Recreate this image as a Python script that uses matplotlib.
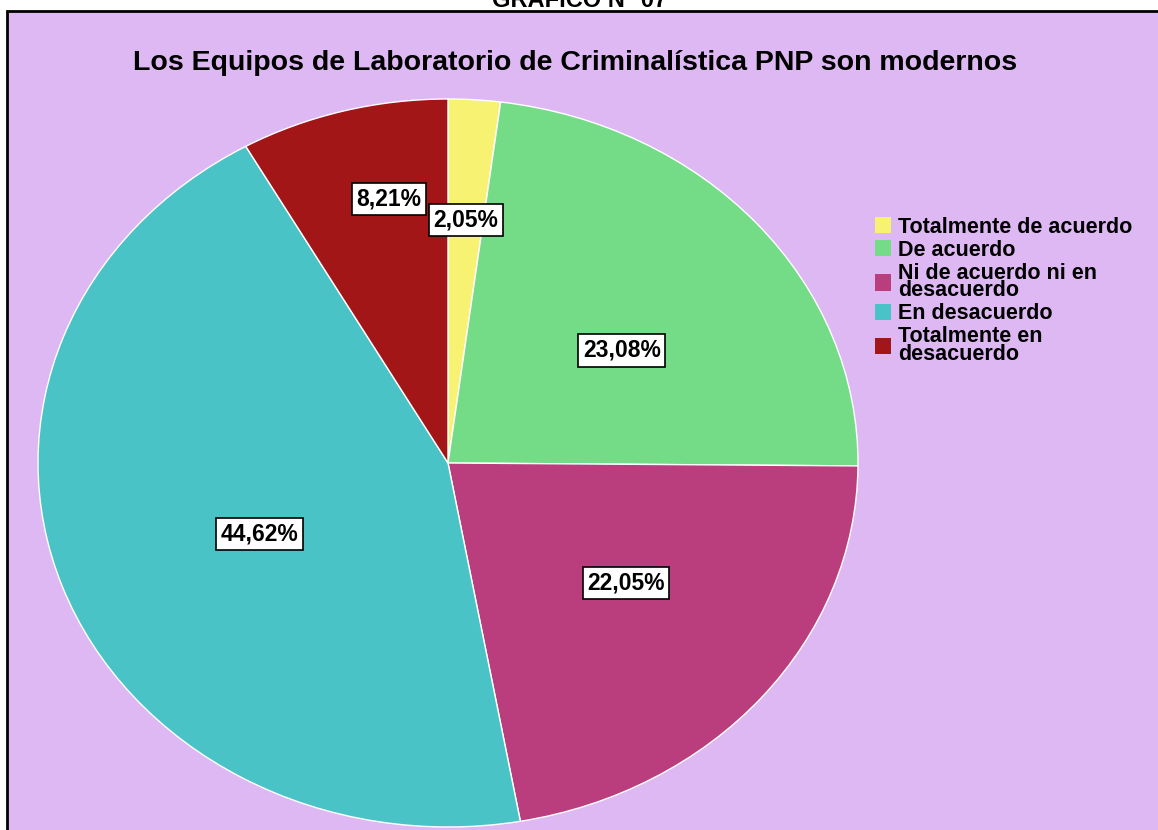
import matplotlib
matplotlib.use("Agg")
import matplotlib.pyplot as plt
import numpy as np
from matplotlib.patches import Rectangle

categories = ["Totalmente de acuerdo", "De acuerdo", "Ni de acuerdo ni en\ndesacuerdo",
              "En desacuerdo", "Totalmente en\ndesacuerdo"]
values = [2.05, 23.08, 22.05, 44.62, 8.21]
labels = ["2,05%", "23,08%", "22,05%", "44,62%", "8,21%"]
colors = ["#F8F272", "#74DC86", "#BA3E7E", "#4AC3C7", "#A21618"]
label_radius = [0.67, 0.525, 0.545, 0.50, 0.74]
label_shift_deg = [0, -5, 3, 3, -3.5]
title = "Los Equipos de Laboratorio de Criminalística PNP son modernos"
header = "GRÁFICO N° 07"

W, H = 1158, 830
fig = plt.figure(figsize=(W / 100, H / 100), dpi=100)
fig.patch.set_facecolor("white")

bg = Rectangle((7 / W, -0.1), 1.2, (H - 11) / H + 0.1, transform=fig.transFigure,
               facecolor="#DDB8F2", edgecolor="black", linewidth=2, zorder=-10)
fig.patches.append(bg)

fig.text(580 / W, 1 - 7 / H, header, ha="center", va="baseline",
         fontsize=17, fontweight="bold", family="Liberation Sans")
fig.text(575 / W, 1 - 63 / H, title, ha="center", va="center",
         fontsize=20.5, fontweight="bold", family="Liberation Sans")

ax = fig.add_axes([38 / W, 3 / H, 820 / W, 728 / H])
ax.set_facecolor("none")
wedges, _ = ax.pie(values, colors=colors, startangle=90, counterclock=False,
                   wedgeprops=dict(edgecolor="white", linewidth=1))
ax.set_aspect("auto")
ax.set_xlim(-1, 1)
ax.set_ylim(-1, 1)
ax.axis("off")

for w, lab, r, s in zip(wedges, labels, label_radius, label_shift_deg):
    ang = np.deg2rad((w.theta1 + w.theta2) / 2 + s)
    ax.text(r * np.cos(ang), r * np.sin(ang), lab, ha="center", va="center",
            fontsize=16.5, fontweight="bold", family="Liberation Sans",
            bbox=dict(boxstyle="square,pad=0.2", fc="white", ec="black", lw=1.2))

handles = [Rectangle((0, 0), 1, 1, fc=c, ec="none") for c in colors]
leg = fig.legend(handles, categories, loc="upper left",
                 bbox_to_anchor=(866 / W, 1 - 208 / H), frameon=False,
                 prop=dict(family="Liberation Sans", weight="bold", size=15.5),
                 handlelength=0.78, handleheight=0.78, handletextpad=0.3,
                 labelspacing=0.1, borderaxespad=0)
for t in leg.get_texts():
    t.set_linespacing(0.76)

fig.savefig("out.png", dpi=100)
